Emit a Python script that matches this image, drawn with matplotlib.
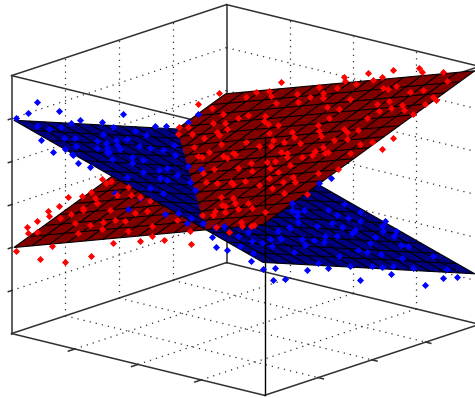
import numpy as np
import matplotlib
matplotlib.use('Agg')
import matplotlib.pyplot as plt
from mpl_toolkits.mplot3d.art3d import Poly3DCollection, Line3DCollection

# axis ticks of the box
x_ticks = [0, 0.25, 0.5, 0.75, 1]
y_ticks = [0, 0.25, 0.5, 0.75, 1]
z_ticks = [0, 1/6, 2/6, 3/6, 4/6, 5/6, 1]

# fitted planes z = b0 + b1*x + b2*y
red_plane = [0.33, 0.33, 0.33]
blue_plane = [0.83, -0.32, -0.32]

# red class points
red_x = [.121, .135, .184, .224, .290, .032, .123, .212, .242, .322, .348, .384, .436, .134, .188, .042, .104, .208, .236, .235,
         .183, .301, .398, .481, .507, .446, .569, .536, .194, .292, .268, .292, .381, .411, .407, .426, .618, .651, .676, .555,
         .617, .647, .668, .421, .524, .609, .729, .726, .526, .466, .579, .600, .636, .724, .801, .814, .828, .868, .891, .997,
         .396, .631, .691, .686, .728, .787, .836, .779, .739, .707, .657, .920, .873, .906, .943, .951, .791, .841,
         .595, .694, .630, .590, .500, .483, .537, .385, .472, .440, .329, .410, .475, .600, .383, .546, .612, .753, .788, .805,
         .841, .872, .912, .680, .709, .727, .627, .617, .760, .796, .829, .659, .699, .782, .835, .648, .777, .929, .967, .970,
         .970, .766, .830, .823, .936, .777, .744, .543, .583, .795, .251, .788, .788, .870, .874, .926, .831, .966, .994, .970,
         .982, .982, .916, .740,
         .020, .030, .030, .020, .020, .020, .020, .008, .060, .120, .140, .200, .300, .400, .450, .500, .600, .205, .030, .055,
         .084, .129, .210, .249, .292, .343, .418, .289, .206, .104, .063, .342, .384, .496, .576, .699, .687, .701, .020, .028,
         .024, .020, .020, .020, .072, .149, .144, .212, .261, .335, .013, .011, .005, .040]
red_y = [.950, .980, .980, .942, .887, .893, .841, .802, .817, .800, .763, .739, .725, .781, .773, .770, .716, .713, .689, .728,
         .678, .622, .621, .583, .618, .672, .596, .576, .619, .573, .550, .540, .533, .517, .549, .540, .525, .513, .484, .463,
         .460, .463, .414, .444, .435, .403, .380, .342, .339, .355, .338, .322, .336, .297, .267, .304, .333, .296, .221, .200,
         .423, .234, .219, .174, .181, .173, .133, .135, .122, .107, .115, .096, .038, .005, .006, .008, .018, .020,
         .960, .960, .980, .985, .960, .985, .972, .976, .957, .929, .939, .908, .892, .867, .880, .824, .801, .813, .827, .760,
         .774, .788, .751, .926, .915, .931, .741, .698, .651, .626, .635, .654, .615, .578, .576, .578, .533, .530, .537, .631,
         .580, .509, .494, .488, .471, .482, .474, .664, .626, .717, .960, .970, .980, .985, .884, .934, .877, .826, .803, .781,
         .714, .362, .346, .423,
         .144, .137, .183, .097, .046, .051, .093, .009, .060, .045, .082, .132, .121, .129, .126, .123, .131, .066, .188, .210,
         .232, .141, .117, .130, .136, .123, .048, .079, .214, .273, .312, .174, .180, .068, .094, .006, .136, .166, .395, .431,
         .413, .241, .302, .348, .246, .317, .370, .308, .289, .252, .850, .950, .775, .725]
red_z = [.683, .698, .714, .715, .718, .635, .648, .665, .679, .700, .697, .701, .713, .632, .647, .598, .601, .634, .635, .648,
         .614, .635, .666, .681, .701, .699, .714, .697, .598, .615, .600, .605, .632, .636, .645, .649, .707, .714, .713, .666,
         .685, .696, .687, .615, .646, .664, .696, .682, .615, .601, .633, .634, .651, .667, .682, .699, .713, .714, .697, .725,
         .600, .615, .630, .614, .630, .647, .650, .632, .614, .599, .585, .665, .631, .631, .643, .646, .597, .589,
         .887, .922, .874, .853, .852, .822, .828, .779, .802, .782, .748, .765, .781, .814, .747, .782, .796, .847, .863, .846,
         .863, .878, .879, .860, .866, .877, .781, .764, .796, .799, .813, .763, .764, .779, .796, .735, .762, .811, .826, .815,
         .790, .751, .767, .763, .794, .745, .732, .728, .729, .829, .773, .950, .935, .950, .910, .944, .894, .921, .923, .908,
         .890, .774, .746, .714,
         .442, .426, .452, .413, .406, .382, .374, .321, .288, .354, .287, .314, .391, .420, .450, .447, .454, .419, .402, .417,
         .434, .419, .438, .455, .471, .484, .484, .451, .469, .454, .454, .500, .516, .516, .551, .563, .602, .616, .497, .481,
         .474, .466, .456, .459, .435, .484, .500, .502, .512, .524, .660, .675, .590, .582]

# blue class points
blue_x = [.014, .012, .008, .011, .012, .014, .016, .017, .014, .013, .014, .016, .013, .080, .100, .180, .220, .200,
          .042, .060, .040, .124, .112, .207, .180, .240, .133, .187, .070, .117, .098, .041, .066, .175, .124, .208, .175, .212,
          .257, .234, .153, .178, .286, .259, .329, .310, .396, .390, .402, .351, .503, .300, .450, .286, .304, .408, .460, .360,
          .463, .165, .155, .144, .212, .350,
          .650, .600, .530, .680, .682, .716, .750, .750, .800, .741, .729, .801, .766, .833, .876, .925, .930, .844, .811, .746,
          .799, .711, .594, .573, .624, .574, .669, .842, .899, .975, .970, .645, .698, .567, .512, .527, .564, .599, .618, .635,
          .664, .703, .737, .752, .707, .731, .689, .663, .691, .760, .765, .799, .811, .798, .718, .806, .863, .858, .869, .879,
          .800, .803, .806, .912, .974, .983, .975, .979, .966, .901, .874, .972, .967, .980, .980, .900, .930, .950, .980, .970,
          .980, .980, .381, .432]
blue_y = [.100, .060, .009, .210, .260, .300, .400, .450, .500, .650, .700, .800, .850, .041, .073, .095, .108, .044,
          .071, .105, .185, .096, .162, .003, .086, .004, .239, .176, .341, .350, .420, .524, .549, .497, .612, .514, .236, .196,
          .164, .284, .414, .294, .226, .305, .297, .356, .070, .230, .248, .197, .111, .126, .066, .482, .522, .348, .311, .344,
          .098, .448, .310, .272, .206, .128,
          .008, .010, .018, .018, .034, .046, .052, .070, .063, .073, .132, .110, .197, .137, .030, .034, .018, .170, .247, .360,
          .307, .453, .628, .629, .592, .687, .543, .373, .258, .076, .030, .980, .966, .956, .946, .683, .810, .811, .836, .875,
          .943, .899, .911, .804, .765, .722, .725, .709, .610, .618, .557, .469, .497, .411, .449, .304, .194, .600, .633, .682,
          .725, .866, .898, .448, .278, .420, .528, .570, .636, .754, .931, .726, .886, .317, .219, .155, .180, .505, .610, .780,
          .856, .917, .980, .980]
blue_z = [.875, .843, .836, .806, .749, .750, .715, .682, .718, .630, .617, .605, .621, .757, .709, .677, .667, .730,
          .794, .777, .758, .760, .742, .763, .745, .750, .711, .714, .698, .681, .664, .649, .633, .615, .594, .599, .698, .699,
          .695, .664, .649, .679, .666, .650, .630, .617, .681, .632, .622, .655, .634, .584, .617, .584, .566, .588, .583, .605,
          .650, .634, .681, .697, .696, .533,
          .619, .606, .635, .585, .601, .586, .538, .494, .500, .570, .554, .538, .522, .520, .540, .523, .498, .506, .491, .476,
          .476, .458, .439, .445, .441, .426, .442, .441, .460, .466, .473, .323, .298, .343, .363, .443, .390, .379, .365, .347,
          .316, .317, .303, .332, .359, .365, .378, .391, .414, .389, .407, .424, .411, .443, .457, .475, .492, .363, .349, .330,
          .342, .296, .285, .395, .429, .381, .349, .334, .317, .300, .252, .287, .237, .400, .419, .379, .384, .298, .296, .204,
          .213, .200, .407, .438]

surf_lo, surf_hi = 0.005, 0.99
mesh_lines = np.linspace(surf_lo, surf_hi, 15)
s_cross = (blue_plane[0] - red_plane[0]) / (red_plane[1] - blue_plane[1])

def plane_z(coef, x, y):
    return coef[0] + coef[1] * x + coef[2] * y

def draw_part(ax, coef, color, low, zorder):
    # part of a plane on one side of the line where the two planes cross
    lo, hi = surf_lo, surf_hi
    if low:
        corners = [(lo, lo), (s_cross - lo, lo), (lo, s_cross - lo)]
    else:
        corners = [(s_cross - lo, lo), (hi, lo), (hi, hi), (lo, hi), (lo, s_cross - lo)]
    poly = [(a, b, plane_z(coef, a, b)) for a, b in corners]
    ax.add_collection3d(Poly3DCollection([poly], facecolor=color, edgecolor='none', zorder=zorder))
    segs = []
    for c in mesh_lines:
        if low:
            if c >= s_cross - lo:
                continue
            t0, t1 = lo, s_cross - c
        else:
            t0, t1 = max(lo, s_cross - c), hi
        segs.append([(c, t0, plane_z(coef, c, t0)), (c, t1, plane_z(coef, c, t1))])
        segs.append([(t0, c, plane_z(coef, t0, c)), (t1, c, plane_z(coef, t1, c))])
    ax.add_collection3d(Line3DCollection(segs, colors='black', linewidths=0.8, zorder=zorder + 0.1))

fig = plt.figure(figsize=(4.75, 3.98), dpi=100)
ax = fig.add_axes([1.6 / 475, -45.9 / 398, 1, 475 / 398], projection='3d', proj_type='ortho', computed_zorder=False)
ax.view_init(elev=16.5, azim=-49.3)
ax.set_box_aspect((333.6, 329.6, 269), zoom=1.105)
ax.set_xlim(0, 1)
ax.set_ylim(0, 1)
ax.set_zlim(0, 1)
ax.set_axis_off()

# dotted grid on the floor and the two back walls
grid = dict(color='#303030', linestyle=(0, (1, 4)), linewidth=0.9, zorder=1)
for t in x_ticks[1:-1]:
    ax.plot([t, t], [0, 1], [0, 0], **grid)
    ax.plot([t, t], [1, 1], [0, 1], **grid)
for t in y_ticks[1:-1]:
    ax.plot([0, 1], [t, t], [0, 0], **grid)
    ax.plot([0, 0], [t, t], [0, 1], **grid)
for t in z_ticks[1:-1]:
    ax.plot([0, 0], [0, 1], [t, t], **grid)
    ax.plot([0, 1], [1, 1], [t, t], **grid)

# box edges behind the planes, with short outward ticks
edge = dict(color='#303030', linewidth=1.1, zorder=2)
for a, b in [((0, 0, 0), (1, 0, 0)), ((1, 0, 0), (1, 1, 0)), ((1, 1, 0), (0, 1, 0)), ((0, 1, 0), (0, 0, 0)),
             ((0, 0, 1), (1, 0, 1)), ((1, 0, 1), (1, 1, 1)), ((1, 1, 1), (0, 1, 1)), ((0, 1, 1), (0, 0, 1)),
             ((0, 0, 0), (0, 0, 1)), ((0, 1, 0), (0, 1, 1)), ((1, 1, 0), (1, 1, 1))]:
    ax.plot([a[0], b[0]], [a[1], b[1]], [a[2], b[2]], **edge)
for t in x_ticks[1:-1]:
    ax.plot([t, t], [0, -0.03], [0, 0], **edge)
for t in y_ticks[1:-1]:
    ax.plot([1, 1.02], [t, t], [0, 0], **edge)
for t in z_ticks[1:-1]:
    ax.plot([0, 0], [0, -0.015], [t, t], **edge)

draw_part(ax, red_plane, '#800000', True, 3)
draw_part(ax, blue_plane, '#000080', False, 3)
draw_part(ax, blue_plane, '#000080', True, 4)
draw_part(ax, red_plane, '#800000', False, 5)

ax.plot([1, 1], [0, 0], [0, 1], color='black', linewidth=1.0, zorder=6)

ax.scatter(blue_x, blue_y, blue_z, color='#0000ff', marker='D', s=13, linewidths=0, depthshade=False, zorder=7)
ax.scatter(red_x, red_y, red_z, color='#ff0000', marker='D', s=13, linewidths=0, depthshade=False, zorder=8)

fig.savefig('out.png', dpi=100)
